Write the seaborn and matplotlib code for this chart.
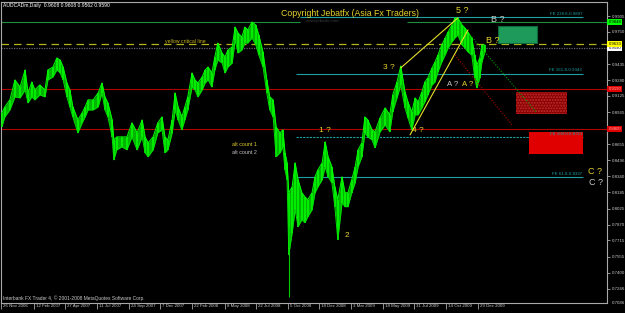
import matplotlib
matplotlib.use("Agg")
import matplotlib.pyplot as plt
import matplotlib.transforms as mtransforms
from matplotlib.patches import Rectangle
import numpy as np
import pandas as pd
import seaborn as sns

# ---------------- data ----------------
# calendar days since 26 Nov 2006
days = [2, 9, 21, 33, 45, 57, 64, 73, 80, 92, 104, 111, 123, 132, 140, 147, 156, 163, 170, 182,
        192, 199, 206, 218, 230, 239, 246, 253, 263, 267, 274, 286, 298, 310, 322, 334, 341, 348, 360, 371,
        381, 388, 395, 405, 412, 419, 428, 435, 442, 452, 459, 466, 476, 483, 490, 499, 506, 513, 523, 530,
        537, 547, 554, 561, 570, 577, 584, 594, 603, 610, 620, 629, 636, 644, 651, 660, 667, 672, 677, 681,
        689, 696, 703, 712, 719, 726, 736, 743, 750, 760, 767, 774, 783, 790, 797, 807, 814, 821, 830, 838,
        845, 854, 861, 868, 878, 885, 897, 909, 920, 927, 937, 946, 956, 963, 972, 980, 987, 996, 1003, 1010,
        1020, 1027, 1034, 1043, 1051, 1058, 1067, 1074, 1081, 1091, 1098, 1105, 1114, 1121, 1126, 1133, 1138, 1145]
high = [0.8960, 0.9019, 0.9087, 0.9282, 0.9213, 0.9379, 0.9155, 0.9262, 0.9184, 0.9233,
        0.9184, 0.9379, 0.9408, 0.9496, 0.9476, 0.9408, 0.9252, 0.9184, 0.9019, 0.8892,
        0.8960, 0.9019, 0.9087, 0.9087, 0.9155, 0.9252, 0.9116, 0.9058, 0.8892, 0.8697,
        0.8726, 0.8726, 0.8726, 0.8863, 0.8765, 0.8892, 0.8726, 0.8668, 0.8726, 0.8863,
        0.8921, 0.8726, 0.8697, 0.8892, 0.9155, 0.9019, 0.8921, 0.9019, 0.9116, 0.9350,
        0.9282, 0.9252, 0.9311, 0.9379, 0.9408, 0.9350, 0.9506, 0.9642, 0.9545, 0.9506,
        0.9574, 0.9603, 0.9798, 0.9739, 0.9700, 0.9798, 0.9769, 0.9847, 0.9817, 0.9720,
        0.9554, 0.9282, 0.9116, 0.9087, 0.8824, 0.8765, 0.8795, 0.8571, 0.8473, 0.8181,
        0.8239, 0.8473, 0.8308, 0.8181, 0.8142, 0.8113, 0.8181, 0.8337, 0.8405, 0.8473,
        0.8678, 0.8532, 0.8434, 0.8239, 0.8113, 0.8337, 0.8181, 0.8181, 0.8308, 0.8434,
        0.8600, 0.8668, 0.8921, 0.8892, 0.8795, 0.8775, 0.8912, 0.9009, 0.8941, 0.9136,
        0.9262, 0.9418, 0.9165, 0.9067, 0.8970, 0.9106, 0.9067, 0.9165, 0.9262, 0.9301,
        0.9399, 0.9457, 0.9525, 0.9623, 0.9691, 0.9749, 0.9817, 0.9886, 0.9886, 0.9817,
        0.9788, 0.9749, 0.9691, 0.9525, 0.9428, 0.9496, 0.9623, 0.9623]
low = [0.8824, 0.8921, 0.8989, 0.9116, 0.9106, 0.9184, 0.9058, 0.9116, 0.9087, 0.9136,
       0.9116, 0.9282, 0.9311, 0.9379, 0.9350, 0.9282, 0.9116, 0.9019, 0.8921, 0.8765,
       0.8863, 0.8921, 0.8989, 0.8989, 0.9019, 0.9155, 0.8989, 0.8921, 0.8726, 0.8502,
       0.8600, 0.8629, 0.8600, 0.8726, 0.8600, 0.8726, 0.8571, 0.8532, 0.8600, 0.8765,
       0.8795, 0.8571, 0.8600, 0.8765, 0.8989, 0.8892, 0.8795, 0.8892, 0.8989, 0.9213,
       0.9184, 0.9116, 0.9184, 0.9252, 0.9282, 0.9213, 0.9379, 0.9476, 0.9447, 0.9350,
       0.9408, 0.9447, 0.9671, 0.9545, 0.9574, 0.9642, 0.9642, 0.9691, 0.9623, 0.9525,
       0.9408, 0.9155, 0.8989, 0.8921, 0.8532, 0.8571, 0.8629, 0.8405, 0.8308, 0.7577,
       0.7791, 0.8015, 0.7850, 0.7918, 0.7889, 0.7947, 0.8015, 0.8181, 0.8239, 0.8308,
       0.8434, 0.8337, 0.8278, 0.8045, 0.7723, 0.8084, 0.8045, 0.8045, 0.8181, 0.8278,
       0.8434, 0.8532, 0.8765, 0.8726, 0.8697, 0.8619, 0.8775, 0.8843, 0.8775, 0.8970,
       0.9106, 0.9233, 0.9009, 0.8912, 0.8795, 0.8941, 0.8941, 0.9009, 0.9067, 0.9136,
       0.9233, 0.9262, 0.9360, 0.9457, 0.9525, 0.9593, 0.9652, 0.9691, 0.9720, 0.9623,
       0.9593, 0.9554, 0.9525, 0.9301, 0.9204, 0.9301, 0.9457, 0.9554]
wick_days = [681]
wick_high = [0.7850]
wick_low = [0.7168]

x_tick_days = [0, 78, 152, 227, 302, 376, 453, 529, 604, 679, 753, 828, 904, 978, 1053, 1129]
x_tick_labels = ["26 Nov 2006", "12 Feb 2007", "27 Apr 2007", "11 Jul 2007", "24 Sep 2007",
                 "7 Dec 2007", "22 Feb 2008", "8 May 2008", "22 Jul 2008", "5 Oct 2008",
                 "18 Dec 2008", "3 Mar 2009", "18 May 2009", "31 Jul 2009", "14 Oct 2009",
                 "29 Dec 2009"]
y_tick_values = [0.9905, 0.9750, 0.9590, 0.9435, 0.9280, 0.9125, 0.8965, 0.8810, 0.8655,
                 0.8496, 0.8340, 0.8185, 0.8025, 0.7870, 0.7715, 0.7555, 0.7400, 0.7246]
y_hidden_labels = [0.9590, 0.8810]  # covered by the price tags in the reference
y_bottom_label = "0.7086"

fe_levels = [0.9897, 0.9343, 0.8721, 0.8337]
fe_labels = ["FE 238.6-0.9897", "FE 161.8-0.9343", "FE 100.0-0.8721", "FE 61.8-0.8337"]

green_level = 0.9848
critical_level = 0.9633
bid_level = 0.9590
red_levels = [0.9190, 0.8800]
tag_values = [(0.9848, "0.9848", "#00ff00", "black"),
              (0.9590, "0.9590", "white", "black"),
              (0.9633, "0.9633", "#ffff00", "black"),
              (0.9190, "0.9190", "#e00000", "#ffb0b0"),
              (0.8800, "0.8800", "#e00000", "#ffb0b0")]

trend_a = ([946, 1081], [0.9399, 0.9886])
trend_b = ([968, 1105], [0.8746, 0.9769])
dotted_green = ([1110, 1268], [0.9720, 0.8960])
dotted_red = ([1074, 1209], [0.9525, 0.8843])

# ---------------- figure ----------------
sns.set_style("dark", rc={"axes.facecolor": "black", "figure.facecolor": "black"})
plt.rcParams["font.family"] = ["Liberation Sans", "DejaVu Sans"]

fig = plt.figure(figsize=(6.25, 3.13), dpi=100)
fig.patch.set_facecolor("black")
ax = fig.add_axes([1 / 625, 10 / 313, 606 / 625, 301 / 313])
ax.set_facecolor("black")
ax.grid(False)
XMAX = 1434
ax.set_xlim(0, XMAX)
ax.set_ylim(0.7105, 1.0042)

df = pd.DataFrame({"day": days, "high": high, "low": low})

# horizontal levels
ax.hlines(green_level, 0, 708, color="#1f8f3f", lw=0.8)
ax.hlines(green_level, 961, XMAX, color="#1f8f3f", lw=0.8)
ax.axhline(critical_level, color="#b4b41e", lw=0.9, dashes=(6, 4))
ax.axhline(bid_level, color="#60607a", lw=0.9, ls=(0, (1, 1)))
for lv in red_levels:
    ax.axhline(lv, color="#b00000", lw=0.8)
for i, (lv, lab) in enumerate(zip(fe_levels, fe_labels)):
    start = 708 if i == 0 else 698
    ls = (0, (2, 1)) if i == 2 else "-"
    ax.hlines(lv, start, 1377, color="#1ea0a0", lw=0.8, linestyles=[ls])
    ax.text(1375, lv + 0.0012, lab, color="#1ea0a0", fontsize=3.2, ha="right", va="bottom")

# target boxes
ax.add_patch(Rectangle((1176, 0.9642), 92, 0.0165, facecolor="#1e9a5a", edgecolor="#0f6a3a", lw=0.8, zorder=2))
ax.add_patch(Rectangle((1218, 0.8950), 121, 0.0215, facecolor="#8a0000", edgecolor="#c03030",
                       hatch="......", lw=0, zorder=2))
ax.add_patch(Rectangle((1249, 0.8561), 128, 0.0214, facecolor="#e00000", edgecolor="none", zorder=2))

# price series (high/low band)
ax.fill_between(df["day"], df["low"], df["high"], color="#00b400", lw=0, zorder=3)
ax.vlines(df["day"], df["low"], df["high"], color="#00ff00", lw=1.1, zorder=4)
ax.vlines(wick_days, wick_low, wick_high, color="#00cc00", lw=0.8, zorder=4)
sns.lineplot(data=df, x="day", y="high", color="#00ff00", lw=0.7, ax=ax, zorder=4)
sns.lineplot(data=df, x="day", y="low", color="#00e000", lw=0.7, ax=ax, zorder=4)

# trend lines
ax.plot(*trend_a, color="#e6e02a", lw=0.8, zorder=5)
ax.plot(*trend_b, color="#e6e02a", lw=0.8, zorder=5)
ax.plot(*dotted_green, color="#00a000", lw=0.8, ls=(0, (1, 1.5)), zorder=5)
ax.plot(*dotted_red, color="#b00000", lw=0.8, ls=(0, (1, 1.5)), zorder=5)

# annotations
YEL = "#e6d22e"
GRY = "#c8c8c8"
ax.text(662, 0.9934, "Copyright Jebatfx (Asia Fx Traders)", color=YEL, fontsize=6.3, va="center", ha="left")
ax.text(722, 0.9853, "www.jebatfx.com", color="#3c3c3c", fontsize=3.2, va="center", ha="left")
ax.text(388, 0.9661, "yellow critical line", color="#c8b41e", fontsize=3.7, va="center", ha="left")
ax.text(1077, 0.9963, "5 ?", color=YEL, fontsize=6.5, va="center")
ax.text(1159, 0.9876, "B ?", color=GRY, fontsize=6.5, va="center")
ax.text(1148, 0.9671, "B ?", color=YEL, fontsize=6.5, va="center")
ax.text(904, 0.9399, "3 ?", color=YEL, fontsize=6.0, va="center")
ax.text(1056, 0.9233, "A ?", color=GRY, fontsize=5.6, va="center")
ax.text(1090, 0.9233, "A ?", color=YEL, fontsize=5.6, va="center")
ax.text(972, 0.8785, "4 ?", color=YEL, fontsize=6.0, va="center")
ax.text(752, 0.8785, "1 ?", color=YEL, fontsize=6.0, va="center")
ax.text(812, 0.7762, "2", color=YEL, fontsize=6.0, va="center")
ax.text(547, 0.8649, "alt count 1", color=YEL, fontsize=3.8, va="center")
ax.text(547, 0.8571, "alt count 2", color=GRY, fontsize=3.8, va="center")
ax.text(1389, 0.8386, "C ?", color=YEL, fontsize=6.5, va="center")
ax.text(1391, 0.8278, "C ?", color=GRY, fontsize=6.5, va="center")

fig.text(3 / 625, 1 - 5 / 313, "AUDCADm,Daily  0.9608 0.9608 0.9562 0.9590", color="white",
         fontsize=3.6, va="center", ha="left")
fig.text(3 / 625, 1 - 298 / 313, "Interbank FX Trader 4, \u00a9 2001-2008 MetaQuotes Software Corp.",
         color=GRY, fontsize=3.5, va="center", ha="left")

# axes styling
for s in ax.spines.values():
    s.set_color("#a8a8a8")
    s.set_linewidth(0.8)
ax.set_xlabel("")
ax.set_ylabel("")
ax.set_xticks(x_tick_days)
ax.set_xticklabels(x_tick_labels, ha="left")
ax.tick_params(axis="x", direction="out", length=4, width=0.6, color="#a8a8a8",
               labelsize=3.2, labelcolor=GRY, pad=-3.2, bottom=True)
offset = mtransforms.ScaledTranslation(2 / 100, 0, fig.dpi_scale_trans)
for lbl in ax.get_xticklabels():
    lbl.set_transform(lbl.get_transform() + offset)

ax.yaxis.tick_right()
ax.set_yticks(y_tick_values)
ax.set_yticklabels(["" if v in y_hidden_labels else f"{v:.4f}" for v in y_tick_values])
ax.tick_params(axis="y", direction="out", length=2.5, width=0.6, color="#a8a8a8",
               labelsize=3.2, labelcolor=GRY, pad=1, right=True, left=False)

blend = mtransforms.blended_transform_factory(ax.transAxes, ax.transData)
ax.text(1.0 + 5 / 606, 0.7105, y_bottom_label, transform=blend, fontsize=3.2, color=GRY,
        ha="left", va="center", clip_on=False)
for val, txt, fc, tc in tag_values:
    ax.text(1.0 + 1.5 / 606, val, txt, transform=blend, fontsize=3.1, color=tc, ha="left", va="center",
            clip_on=False, bbox=dict(boxstyle="square,pad=0.25", fc=fc, ec="none"))

fig.savefig("out.png", dpi=100, facecolor="black")
